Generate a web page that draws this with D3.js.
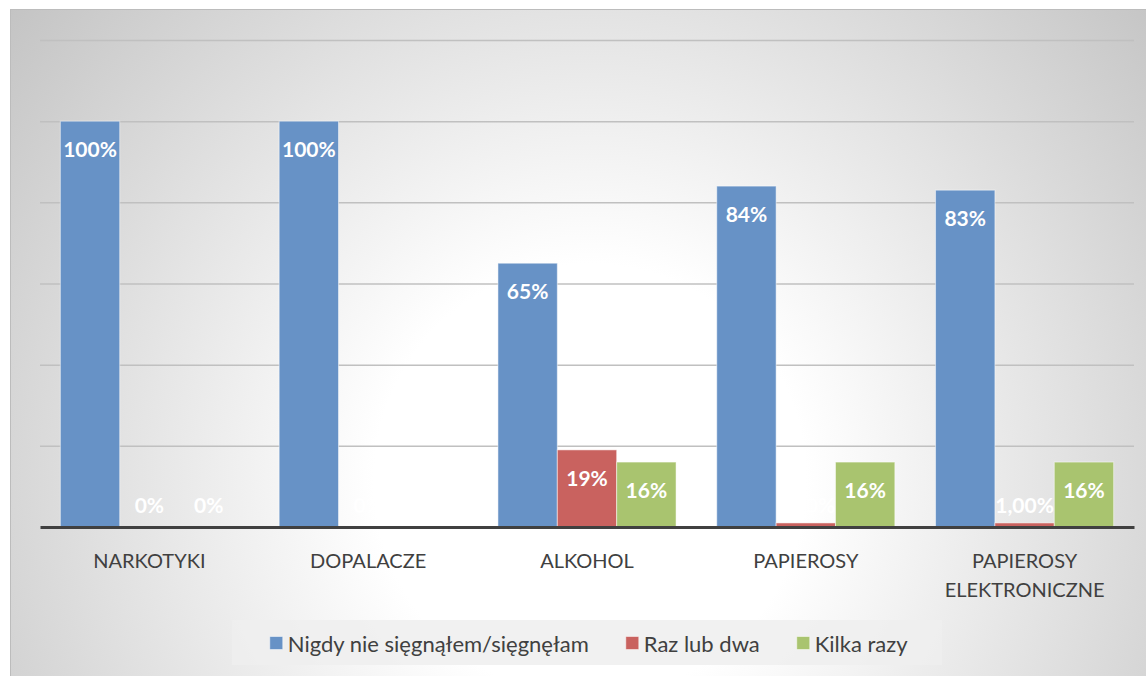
<!DOCTYPE html>
<html>
<head>
<meta charset="utf-8">
<script src="https://cdn.jsdelivr.net/npm/d3@7"></script>
<style>
body { margin: 0; background: #fff; }
svg { display: block; font-family: Lato, "Open Sans", sans-serif; }
</style>
</head>
<body>
<div id="chart"></div>
<script>
// Chart data
const categories = ["NARKOTYKI", "DOPALACZE", "ALKOHOL", "PAPIEROSY", "PAPIEROSY ELEKTRONICZNE"];
const seriesNames = ["Nigdy nie sięgnąłem/sięgnęłam", "Raz lub dwa", "Kilka razy"];
const nigdyValues = [100, 100, 65, 84, 83];
const razValues = [0, 0, 19, 1, 1];
const kilkaValues = [0, 0, 16, 16, 16];
const nigdyLabels = ["100%", "100%", "65%", "84%", "83%"];
const razLabels = ["0%", "0%", "19%", "1,00%", "1,00%"];
const kilkaLabels = ["0%", "0%", "16%", "16%", "16%"];
const gridTicks = [20, 40, 60, 80, 100, 120];
const colors = ["#6792c6", "#c9625f", "#a9c46f"];

const W = 1146, H = 676;
const margin = { top: 40, right: 12, bottom: 149, left: 40 };
const width = W - margin.left - margin.right;
const height = H - margin.top - margin.bottom;

const svg = d3.select("#chart")
    .append("svg")
    .attr("width", W)
    .attr("height", H);

// Background with radial gradient
const grad = svg.append("defs").append("radialGradient")
    .attr("id", "bg")
    .attr("gradientUnits", "userSpaceOnUse")
    .attr("cx", 590).attr("cy", 480).attr("r", 800);
grad.append("stop").attr("offset", 0).attr("stop-color", "#ffffff");
grad.append("stop").attr("offset", 0.27).attr("stop-color", "#ffffff");
grad.append("stop").attr("offset", 1).attr("stop-color", "#bebebe");

svg.append("rect")
    .attr("x", 10.5).attr("y", 9.5)
    .attr("width", 1140).attr("height", 670)
    .attr("fill", "url(#bg)")
    .attr("stroke", "#bcbcbc");

const g = svg.append("g")
    .attr("transform", `translate(${margin.left},${margin.top})`);

const x0 = d3.scaleBand()
    .domain(categories)
    .range([0, width])
    .paddingInner(0.186)
    .paddingOuter(0.093);

const x1 = d3.scaleBand()
    .domain(seriesNames)
    .range([0, x0.bandwidth()]);

const y = d3.scaleLinear()
    .domain([0, 120])
    .range([height, 0]);

// Gridlines
g.append("g")
    .call(d3.axisLeft(y).tickValues(gridTicks).tickSize(-width).tickFormat(""))
    .call(a => a.select(".domain").remove())
    .selectAll("line")
    .attr("stroke", "#c0c0c0")
    .attr("stroke-width", 1.5);

// Build rows
const seriesValues = [nigdyValues, razValues, kilkaValues];
const seriesLabels = [nigdyLabels, razLabels, kilkaLabels];
const rows = categories.map((c, i) => ({
    cat: c,
    vals: seriesNames.map((s, k) => ({ name: s, k: k, v: seriesValues[k][i], label: seriesLabels[k][i] }))
}));

const groups = g.selectAll(".grp")
    .data(rows)
    .enter()
    .append("g")
    .attr("class", "grp")
    .attr("transform", d => `translate(${x0(d.cat)},0)`);

groups.selectAll("rect")
    .data(d => d.vals)
    .enter()
    .append("rect")
    .attr("x", d => x1(d.name))
    .attr("y", d => y(d.v))
    .attr("width", x1.bandwidth())
    .attr("height", d => height - y(d.v))
    .attr("fill", d => colors[d.k])
    .attr("stroke", "rgba(255,255,255,0.5)")
    .attr("stroke-width", 1);

groups.selectAll("text")
    .data(d => d.vals)
    .enter()
    .append("text")
    .attr("x", d => x1(d.name) + x1.bandwidth() / 2)
    .attr("y", d => Math.min(y(d.v) + 27.5, height - 23))
    .attr("dominant-baseline", "central")
    .attr("text-anchor", "middle")
    .attr("fill", "#fff")
    .style("font-weight", "bold")
    .style("font-size", "21px")
    .text(d => d.label);

// Category axis
const xAxis = g.append("g")
    .attr("transform", `translate(0,${height})`)
    .call(d3.axisBottom(x0).tickSize(0).tickPadding(27));

xAxis.select(".domain")
    .attr("stroke", "#404040")
    .attr("stroke-width", 3);

xAxis.selectAll(".tick text")
    .style("font-size", "20px")
    .style("font-family", "Lato, 'Open Sans', sans-serif")
    .attr("fill", "#404040")
    .each(function () {
        const t = d3.select(this);
        const words = t.text().split(" ");
        const yy = t.attr("y");
        t.text(null);
        let line = [];
        let lineNo = 0;
        let tspan = t.append("tspan").attr("x", 0).attr("y", yy).attr("dy", "0.71em");
        words.forEach(w => {
            line.push(w);
            tspan.text(line.join(" "));
            if (tspan.node().getComputedTextLength() > x0.step() - 10 && line.length > 1) {
                line.pop();
                tspan.text(line.join(" "));
                line = [w];
                lineNo++;
                tspan = t.append("tspan").attr("x", 0).attr("y", yy)
                    .attr("dy", (0.71 + lineNo * 1.45) + "em")
                    .text(w);
            }
        });
    });

// Legend
const legend = svg.append("g").attr("transform", "translate(232,620)");
legend.append("rect")
    .attr("width", 710).attr("height", 45)
    .attr("fill", "#efefef")
    .attr("fill-opacity", 0.85);

const items = legend.selectAll(".item")
    .data(seriesNames)
    .enter()
    .append("g")
    .attr("class", "item");

items.append("rect")
    .attr("y", 16.5)
    .attr("width", 13).attr("height", 13)
    .attr("fill", (d, i) => colors[i])
    .attr("stroke", "rgba(255,255,255,0.5)");

items.append("text")
    .attr("x", 18)
    .attr("y", 23)
    .attr("dominant-baseline", "central")
    .attr("fill", "#404040")
    .style("font-size", "22px")
    .text(d => d);

const widths = [];
items.each(function () { widths.push(this.getBBox().width); });
const gap = 37;
const total = d3.sum(widths) + gap * (widths.length - 1);
let cx = 357 - total / 2;
items.attr("transform", (d, i) => {
    const tx = cx;
    cx += widths[i] + gap;
    return `translate(${tx},0)`;
});
</script>
</body>
</html>
